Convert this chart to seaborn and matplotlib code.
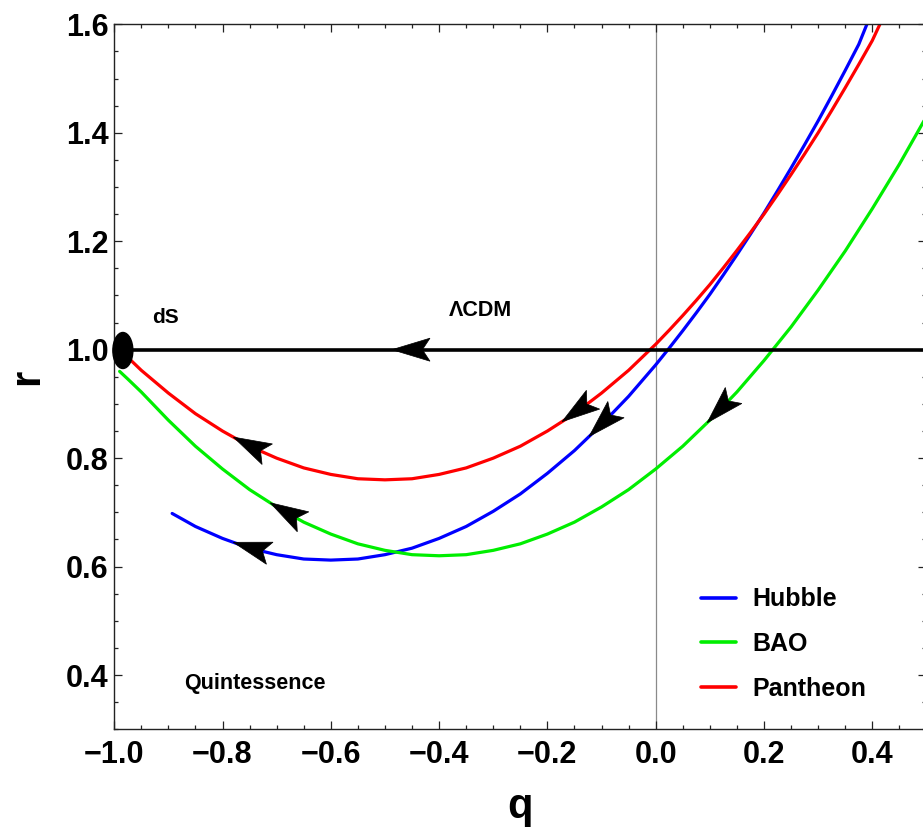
import numpy as np
import pandas as pd
import matplotlib
matplotlib.use("Agg")
import matplotlib.pyplot as plt
import seaborn as sns
from matplotlib.patches import Polygon, Ellipse
from matplotlib.transforms import IdentityTransform
from matplotlib.ticker import MultipleLocator

# ---------------- data ----------------
hubble_q = [-0.893, -0.875, -0.85, -0.825, -0.80, -0.775, -0.75, -0.725, -0.70, -0.675,
            -0.65, -0.625, -0.60, -0.575, -0.55, -0.525, -0.50, -0.475, -0.45, -0.425,
            -0.40, -0.375, -0.35, -0.325, -0.30, -0.275, -0.25, -0.225, -0.20, -0.175,
            -0.15, -0.125, -0.10, -0.075, -0.05, -0.025, 0.00, 0.025, 0.05, 0.075,
            0.10, 0.125, 0.15, 0.175, 0.20, 0.225, 0.25, 0.275, 0.30, 0.325,
            0.35, 0.375, 0.39]
hubble_r = [0.698, 0.688, 0.674, 0.663, 0.652, 0.643, 0.634, 0.628, 0.622, 0.618,
            0.614, 0.613, 0.612, 0.613, 0.614, 0.618, 0.622, 0.628, 0.634, 0.643,
            0.652, 0.663, 0.674, 0.688, 0.702, 0.718, 0.734, 0.753, 0.772, 0.793,
            0.814, 0.838, 0.862, 0.888, 0.914, 0.943, 0.972, 1.003, 1.035, 1.068,
            1.102, 1.138, 1.175, 1.213, 1.252, 1.293, 1.335, 1.378, 1.422, 1.468,
            1.515, 1.563, 1.600]

bao_q = [-0.99, -0.975, -0.95, -0.925, -0.90, -0.875, -0.85, -0.825, -0.80, -0.775,
         -0.75, -0.725, -0.70, -0.675, -0.65, -0.625, -0.60, -0.575, -0.55, -0.525,
         -0.50, -0.475, -0.45, -0.425, -0.40, -0.375, -0.35, -0.325, -0.30, -0.275,
         -0.25, -0.225, -0.20, -0.175, -0.15, -0.125, -0.10, -0.075, -0.05, -0.025,
         0.00, 0.025, 0.05, 0.075, 0.10, 0.125, 0.15, 0.175, 0.20, 0.225,
         0.25, 0.275, 0.30, 0.325, 0.35, 0.375, 0.40, 0.425, 0.45, 0.475, 0.50]
bao_r = [0.960, 0.946, 0.922, 0.896, 0.870, 0.846, 0.822, 0.801, 0.780, 0.761,
         0.742, 0.726, 0.710, 0.696, 0.682, 0.671, 0.660, 0.651, 0.642, 0.636,
         0.630, 0.626, 0.622, 0.621, 0.620, 0.621, 0.622, 0.626, 0.630, 0.636,
         0.642, 0.651, 0.660, 0.671, 0.682, 0.696, 0.710, 0.726, 0.742, 0.761,
         0.780, 0.801, 0.822, 0.846, 0.870, 0.896, 0.922, 0.951, 0.980, 1.011,
         1.042, 1.076, 1.110, 1.146, 1.182, 1.221, 1.260, 1.301, 1.342, 1.386, 1.430]

pantheon_q = [-0.985, -0.975, -0.95, -0.925, -0.90, -0.875, -0.85, -0.825, -0.80, -0.775,
              -0.75, -0.725, -0.70, -0.675, -0.65, -0.625, -0.60, -0.575, -0.55, -0.525,
              -0.50, -0.475, -0.45, -0.425, -0.40, -0.375, -0.35, -0.325, -0.30, -0.275,
              -0.25, -0.225, -0.20, -0.175, -0.15, -0.125, -0.10, -0.075, -0.05, -0.025,
              0.00, 0.025, 0.05, 0.075, 0.10, 0.125, 0.15, 0.175, 0.20, 0.225,
              0.25, 0.275, 0.30, 0.325, 0.35, 0.375, 0.40, 0.414]
pantheon_r = [0.995, 0.986, 0.962, 0.941, 0.920, 0.901, 0.882, 0.866, 0.850, 0.836,
              0.822, 0.811, 0.800, 0.791, 0.782, 0.776, 0.770, 0.766, 0.762, 0.761,
              0.760, 0.761, 0.762, 0.766, 0.770, 0.776, 0.782, 0.791, 0.800, 0.811,
              0.822, 0.836, 0.850, 0.866, 0.882, 0.901, 0.920, 0.941, 0.962, 0.986,
              1.010, 1.036, 1.063, 1.091, 1.120, 1.151, 1.183, 1.216, 1.250, 1.286,
              1.323, 1.361, 1.400, 1.441, 1.483, 1.526, 1.570, 1.600]

series_names = ["Hubble", "BAO", "Pantheon"]
series_colors = ["#0000ff", "#00ee00", "#ff0000"]

lcdm_q = [-0.985, 0.6]
lcdm_r = [1.0, 1.0]
ds_q, ds_r = -0.984, 0.9985

# arrow tip positions (q) along each trajectory
arrow_tips = {"Hubble": [-0.78, -0.123], "BAO": [-0.712, 0.095], "Pantheon": [-0.78, -0.173]}
lcdm_arrow_tip = -0.487

xticks = [-1.0, -0.8, -0.6, -0.4, -0.2, 0.0, 0.2, 0.4]
yticks = [0.4, 0.6, 0.8, 1.0, 1.2, 1.4, 1.6]

# ---------------- style ----------------
sns.set_style("ticks")
plt.rcParams["font.family"] = ["Liberation Sans", "DejaVu Sans"]
plt.rcParams["font.weight"] = "bold"
plt.rcParams["axes.unicode_minus"] = True
for key in ["text.color", "axes.labelcolor", "xtick.color", "ytick.color", "axes.edgecolor"]:
    plt.rcParams[key] = "black"

W, H = 923, 836
fig = plt.figure(figsize=(W / 100, H / 100), dpi=100)
ax_l, ax_b, ax_w, ax_h = 114.2, 106.7, 812.25, 705.0
ax = fig.add_axes([ax_l / W, ax_b / H, ax_w / W, ax_h / H])

curves = {"Hubble": (hubble_q, hubble_r), "BAO": (bao_q, bao_r), "Pantheon": (pantheon_q, pantheon_r)}
frames = []
for name in series_names:
    q, r = curves[name]
    frames.append(pd.DataFrame({"q": q, "r": r, "set": name}))
df = pd.concat(frames, ignore_index=True)

ax.axvline(0.0, color="#8a8a8a", lw=0.9, zorder=0.5)

sns.lineplot(data=df, x="q", y="r", hue="set", hue_order=series_names,
             palette=dict(zip(series_names, series_colors)), sort=False,
             estimator=None, lw=2.3, ax=ax, zorder=2)

ax.plot(lcdm_q, lcdm_r, color="black", lw=2.6, zorder=3, solid_capstyle="butt")

ax.set_xlim(-1.0, 0.5)
ax.set_ylim(0.3, 1.6)

ax.add_patch(Ellipse((ds_q, ds_r), width=20 / 541.5, height=36 / 542.3,
                     color="black", zorder=6, clip_on=False))

# ---------------- arrowheads ----------------
fig.canvas.draw()
L_px, W_px, notch = 38.0, 23.0, 0.8


def arrow_at(q, r, tip_q):
    qq = np.linspace(tip_q, tip_q + 0.2, 400)
    rr = np.interp(qq, q, r)
    pts = ax.transData.transform(np.column_stack([qq, rr]))
    tip = pts[0]
    d = np.hypot(*(pts - tip).T)
    idx = np.argmax(d >= L_px * 0.9)
    back = pts[idx]
    u = (tip - back) / np.linalg.norm(tip - back)
    n = np.array([-u[1], u[0]])
    verts = [tip,
             tip - L_px * u + n * W_px / 2,
             tip - notch * L_px * u,
             tip - L_px * u - n * W_px / 2]
    ax.add_patch(Polygon(verts, closed=True, facecolor="black", edgecolor="black", lw=0.5,
                         transform=IdentityTransform(), zorder=7, clip_on=False))


for name in series_names:
    q, r = curves[name]
    for t in arrow_tips[name]:
        arrow_at(q, r, t)
arrow_at(lcdm_q, lcdm_r, lcdm_arrow_tip)

# ---------------- axes, ticks, labels ----------------
ax.set_xticks(xticks)
ax.set_xticklabels([f"{v:.1f}".replace("-", "\u2212") for v in xticks])
ax.set_yticks(yticks)
ax.set_yticklabels([f"{v:.1f}" for v in yticks])
ax.xaxis.set_minor_locator(MultipleLocator(0.05))
ax.yaxis.set_minor_locator(MultipleLocator(0.05))
ax.tick_params(which="both", direction="in", top=True, right=True, width=0.9, color="#222222")
ax.tick_params(which="major", length=5.5)
ax.tick_params(which="minor", length=3)
ax.tick_params(axis="x", which="major", labelsize=22, pad=8, labelcolor="black")
ax.tick_params(axis="y", which="major", labelsize=22, pad=4, labelcolor="black")
for lab in ax.get_xticklabels() + ax.get_yticklabels():
    lab.set_fontweight("bold")
for s in ax.spines.values():
    s.set_linewidth(1.0)
    s.set_color("#222222")
    s.set_visible(True)

ax.set_xlabel("q", fontsize=30, fontweight="bold", color="black")
ax.set_ylabel("r", fontsize=30, fontweight="bold", color="black")
ax.xaxis.set_label_coords(0.5, -0.082)
ax.yaxis.set_label_coords(-0.083, 0.5)

ax.text(-0.906, 1.0595, "dS", fontsize=15, fontweight="bold", ha="center", va="center", color="black")
ax.text(-0.324, 1.0724, "\u039bCDM", fontsize=15.5, fontweight="bold", ha="center", va="center", color="black")
ax.text(-0.741, 0.3836, "Quintessence", fontsize=15.5, fontweight="bold", ha="center", va="center", color="black")

handles, labels = ax.get_legend_handles_labels()
leg = ax.legend(handles, labels, loc="upper left", bbox_to_anchor=(0.7224, 0.2012),
                frameon=False, borderpad=0, borderaxespad=0, handlelength=1.4,
                handletextpad=0.64, labelspacing=0.83,
                prop=dict(weight="bold", size=18, family=["Liberation Sans", "DejaVu Sans"]))
for t in leg.get_texts():
    t.set_color("black")
for h in leg.get_lines():
    h.set_linewidth(2.6)

fig.savefig("out.png", dpi=100)
